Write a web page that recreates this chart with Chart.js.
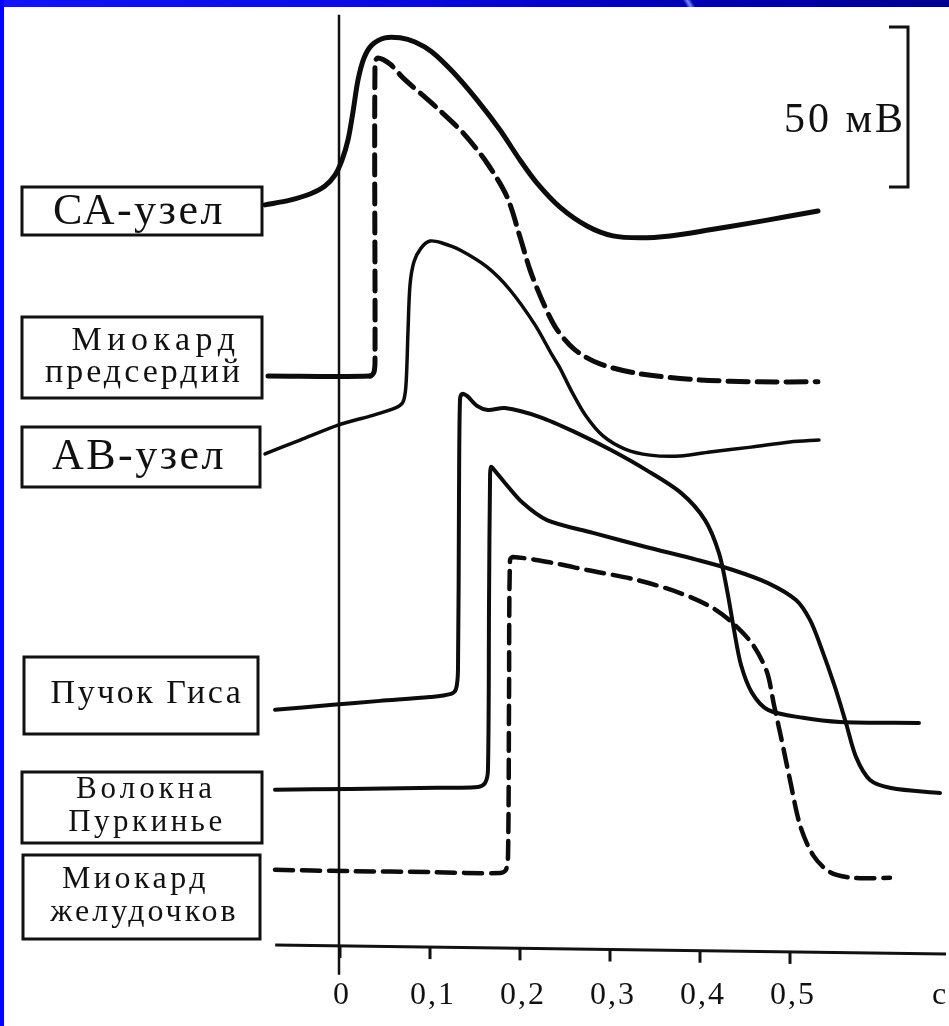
<!DOCTYPE html>
<html>
<head>
<meta charset="utf-8">
<script src="https://cdn.jsdelivr.net/npm/chart.js@4.4.1/dist/chart.umd.min.js"></script>
<style>
  html, body { margin: 0; padding: 0; background: #fff; }
  #wrap { position: relative; width: 949px; height: 1026px; overflow: hidden; }
  #topband { position: absolute; left: 0; top: 0; width: 949px; height: 7px;
    background: linear-gradient(90deg, #1414f5 0%, #0a0ae0 40%, #0000b0 75%, #000092 100%); }
  #streak { position: absolute; left: 676px; top: 0; width: 26px; height: 7px;
    background: linear-gradient(60deg, transparent 35%, #6f8cff 50%, transparent 65%); }
  #leftband { position: absolute; left: 0; top: 0; width: 4px; height: 1026px; background: #0000ff; }
  canvas { display: block; }
</style>
</head>
<body>
<div id="wrap">
  <canvas id="apChart" width="949" height="1026"></canvas>
  <div id="topband"></div>
  <div id="streak"></div>
  <div id="leftband"></div>
</div>
<script>
    // время, с  /  потенциал (мВ, каждая кривая со своим смещением по вертикали, как на рисунке)
    const caT  = [-0.0833, -0.0556, -0.0333, -0.0167, -0.0056, 0.0022, 0.0089, 0.0144, 0.0200, 0.0267, 0.0356, 0.0500, 0.0667, 0.0833, 0.1022, 0.1256, 0.1522, 0.1778, 0.2000, 0.2189, 0.2444, 0.2744, 0.3033, 0.3333, 0.3667, 0.4111, 0.4556, 0.5000, 0.5311];
    const caMv = [256.6, 258.1, 260.0, 262.5, 265.9, 270.6, 276.9, 285.6, 295.6, 302.5, 306.6, 308.8, 308.8, 307.5, 304.4, 298.1, 289.4, 280.0, 270.6, 263.4, 255.9, 250.0, 246.9, 246.3, 246.9, 248.8, 250.9, 253.1, 254.7];

    const atT  = [-0.08, 0.0333, 0.0378, 0.0389, 0.0389, 0.0422, 0.0556, 0.07, 0.1078, 0.1367, 0.1633, 0.1856, 0.2, 0.2111, 0.2244, 0.24, 0.2611, 0.2889, 0.3333, 0.4, 0.4667, 0.5311];
    const atMv = [203.1, 203.1, 204.4, 208.1, 301.3, 302.5, 300.6, 296.3, 286.9, 279.1, 269.7, 259.1, 246.6, 236.3, 226.9, 218.1, 211.3, 206.9, 203.8, 201.9, 201.3, 201.3];

    const avT  = [-0.0833, -0.0444, -0.0022, 0.0333, 0.0611, 0.07, 0.0733, 0.0756, 0.0778, 0.0822, 0.09, 0.1, 0.1133, 0.1333, 0.1633, 0.1889, 0.2167, 0.2356, 0.2444, 0.2578, 0.2733, 0.2922, 0.3167, 0.3444, 0.3778, 0.4111, 0.4567, 0.5, 0.5322];
    const avMv = [178.8, 183.1, 187.8, 190.6, 193.1, 195.0, 200.3, 217.5, 231.6, 238.8, 243.1, 245.3, 244.7, 242.5, 237.2, 230.0, 219.1, 209.7, 205.6, 198.1, 190.6, 184.4, 180.3, 178.4, 178.1, 179.4, 180.9, 182.5, 183.1];

    const hisT  = [-0.0722, -0.0111, 0.0444, 0.1, 0.1233, 0.1289, 0.1311, 0.1322, 0.1333, 0.1356, 0.1411, 0.1522, 0.1644, 0.1833, 0.2222, 0.2611, 0.3011, 0.34, 0.3789, 0.4056, 0.4211, 0.43, 0.4378, 0.4456, 0.4578, 0.4756, 0.5144, 0.5556, 0.6433];
    const hisMv = [98.8, 100.3, 101.6, 102.8, 103.8, 105.3, 111.3, 164.4, 195.6, 197.5, 196.9, 193.8, 192.5, 193.1, 190.3, 185.6, 180.0, 173.8, 166.6, 158.1, 147.8, 136.3, 123.8, 112.8, 104.1, 98.8, 96.3, 95.0, 94.7];

    const pkT  = [-0.0722, 0.0111, 0.0889, 0.1533, 0.1611, 0.1644, 0.1656, 0.1667, 0.1678, 0.1733, 0.1833, 0.2033, 0.23, 0.2811, 0.34, 0.3978, 0.4367, 0.4756, 0.5067, 0.5222, 0.5344, 0.55, 0.5622, 0.5733, 0.5889, 0.6122, 0.6667];
    const pkMv = [73.8, 74.1, 74.4, 74.7, 75.9, 80.0, 133.1, 170.6, 174.7, 173.1, 169.7, 163.4, 158.1, 154.1, 149.7, 145.6, 142.5, 138.4, 133.1, 126.9, 118.4, 105.9, 94.7, 84.1, 76.9, 74.4, 72.8];

    const vmT  = [-0.0722, 0.0111, 0.1, 0.1778, 0.1844, 0.1867, 0.1878, 0.1889, 0.1922, 0.2367, 0.2744, 0.33, 0.3778, 0.4144, 0.4389, 0.4589, 0.4744, 0.4822, 0.49, 0.5, 0.5111, 0.5256, 0.5444, 0.57, 0.6111];
    const vmMv = [48.8, 48.4, 48.1, 47.8, 48.8, 53.4, 101.9, 145.6, 146.6, 144.7, 142.5, 139.4, 135.3, 130.6, 125.3, 119.1, 110.6, 100.3, 90.3, 76.9, 62.8, 53.4, 48.1, 46.3, 46.3];

    const trackNames = [['СА-узел'], ['Миокард', 'предсердий'], ['АВ-узел'], ['Пучок Гиса'], ['Волокна', 'Пуркинье'], ['Миокард', 'желудочков']];
    const tickValues = [0, 0.1, 0.2, 0.3, 0.4, 0.5];
    const tickLabels = ['0', '0,1', '0,2', '0,3', '0,4', '0,5'];
    const unitLabel = 'с';
    const scaleBarMv = 50;
    const scaleBarLabel = '50 мВ';

    const SERIF = '"Liberation Serif", "DejaVu Serif", serif';

    function pts(t, v) {
      return t.map((x, i) => ({ x: x, y: v[i] }));
    }

    function line(label, t, v, width, dash) {
      return {
        label: label, data: pts(t, v),
        borderColor: '#0c0c0c', borderWidth: width, borderDash: dash || [],
        borderCapStyle: 'round', borderJoinStyle: 'round',
        pointRadius: 0, tension: 0.3, fill: false, clip: false
      };
    }

    function setSpacing(ctx, px) {
      try { ctx.letterSpacing = px + 'px'; } catch (e) {}
    }

    // рамки с подписями слева, оси и масштабная шкала
    const figurePlugin = {
      id: 'figure',
      beforeDatasetsDraw(chart) {
        const ctx = chart.ctx;
        const xs = chart.scales.x, ys = chart.scales.y;
        ctx.save();
        ctx.strokeStyle = '#111';
        ctx.fillStyle = '#111';
        ctx.lineCap = 'butt';

        // вертикальная линия t = 0
        const x0 = xs.getPixelForValue(0) - 1;
        ctx.lineWidth = 2.5;
        ctx.beginPath();
        ctx.moveTo(x0, ys.getPixelForValue(316));
        ctx.lineTo(x0, ys.getPixelForValue(16));
        ctx.stroke();

        // ось времени (чуть наклонена, как в оригинале)
        const axL = xs.getPixelForValue(-0.072), axR = chart.chartArea.right - 3;
        const ayL = ys.getPixelForValue(25.3), ayR = ys.getPixelForValue(22.5);
        const axisY = px => ayL + (ayR - ayL) * (px - axL) / (axR - axL);
        ctx.lineWidth = 3;
        ctx.beginPath();
        ctx.moveTo(axL, ayL);
        ctx.lineTo(axR, ayR);
        ctx.stroke();

        ctx.font = '32px ' + SERIF;
        ctx.textAlign = 'center';
        ctx.textBaseline = 'middle';
        setSpacing(ctx, 2);
        tickValues.forEach((t, i) => {
          const px = xs.getPixelForValue(t);
          const py = axisY(px);
          ctx.beginPath();
          ctx.moveTo(px, py);
          ctx.lineTo(px, py + 12);
          ctx.stroke();
          ctx.fillText(tickLabels[i], px + (i ? 3 : 2), 996);
        });
        ctx.fillText(unitLabel, chart.chartArea.right - 9, 996);

        // масштаб 50 мВ
        const bx = 908;
        const bTop = ys.getPixelForValue(262.2 + scaleBarMv), bBot = ys.getPixelForValue(262.2);
        ctx.lineWidth = 3;
        ctx.beginPath();
        ctx.moveTo(889, bTop); ctx.lineTo(bx, bTop); ctx.lineTo(bx, bBot); ctx.lineTo(889, bBot);
        ctx.stroke();
        ctx.font = '42px ' + SERIF;
        ctx.textAlign = 'right';
        setSpacing(ctx, 3);
        ctx.fillText(scaleBarLabel, 906, 121);

        // подписи в рамках: размер шрифта и разрядка для каждой строки
        const boxes = [
          { x: 22, y: 187, w: 240, h: 48, size: 44, sp: [2.5], ty: [212], dx: [-5] },
          { x: 22, y: 317, w: 240, h: 81, size: 34, sp: [5.5, 3], ty: [341, 373], dx: [12, 0] },
          { x: 22, y: 427, w: 238, h: 60, size: 44, sp: [2.5], ty: [457], dx: [-4] },
          { x: 24, y: 657, w: 234, h: 77, size: 34, sp: [2.5], ty: [694], dx: [4] },
          { x: 22, y: 772, w: 240, h: 71, size: 31, sp: [4, 3.5], ty: [790, 823], dx: [2, 3] },
          { x: 23, y: 855, w: 237, h: 84, size: 32, sp: [3.5, 3], ty: [880, 913], dx: [-8, 1] }
        ];
        ctx.lineWidth = 3;
        ctx.textAlign = 'center';
        boxes.forEach((b, i) => {
          ctx.strokeRect(b.x, b.y, b.w, b.h);
          ctx.font = b.size + 'px ' + SERIF;
          trackNames[i].forEach((txt, j) => {
            setSpacing(ctx, b.sp[j]);
            ctx.fillText(txt, b.x + b.w / 2 + 2 + b.dx[j], b.ty[j]);
          });
        });
        ctx.restore();
      }
    };

    const ctxEl = document.getElementById('apChart');
    const apChart = new Chart(ctxEl, {
      type: 'line',
      data: {
        datasets: [
          line('СА-узел', caT, caMv, 5),
          Object.assign(line('Миокард предсердий', atT, atMv, 5, [20, 9]), {
            segment: { borderDash: c => c.p1.parsed.x <= 0.034 ? [] : undefined }
          }),
          line('АВ-узел', avT, avMv, 3.5),
          line('Пучок Гиса', hisT, hisMv, 4),
          line('Волокна Пуркинье', pkT, pkMv, 4),
          line('Миокард желудочков', vmT, vmMv, 4.5, [18, 9])
        ]
      },
      options: {
        responsive: false,
        animation: false,
        layout: { padding: 0 },
        plugins: { legend: { display: false }, tooltip: { enabled: false } },
        scales: {
          x: { type: 'linear', min: -0.37778, max: 0.67667, display: false },
          y: { type: 'linear', min: 0, max: 320.625, display: false }
        }
      },
      plugins: [figurePlugin]
    });
</script>
</body>
</html>
